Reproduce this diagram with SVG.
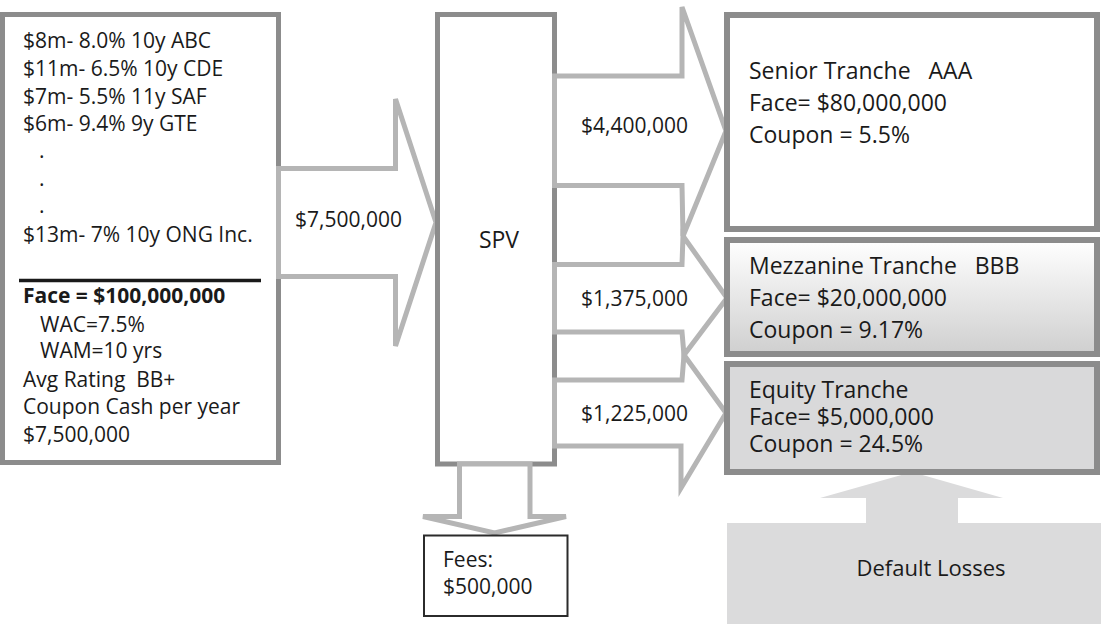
<svg xmlns="http://www.w3.org/2000/svg" width="1101" height="624" viewBox="0 0 1101 624">
  <style>
    .box { fill: #ffffff; stroke: #8c8c8c; stroke-width: 5; }
    .tr { stroke: #8c8c8c; stroke-width: 6; }
    .arrow { fill: #ffffff; stroke: #b5b5b5; stroke-width: 5; stroke-linejoin: miter; }
    text { font-family: "Open Sans", "Liberation Sans", sans-serif; fill: #1a1a1a; }
    .t21 { font-size: 21px; }
    .t23 { font-size: 23px; }
    .b { font-weight: bold; }
  </style>
  <defs>
    <linearGradient id="mezzGrad" x1="0" y1="0" x2="0" y2="1">
      <stop offset="0" stop-color="#ffffff"/>
      <stop offset="1" stop-color="#cfcfcf"/>
    </linearGradient>
  </defs>

  <g id="collateral">
    <rect class="box" x="2.5" y="14.5" width="276" height="448"/>
    <text class="t21" x="23" y="48">$8m- 8.0% 10y ABC</text>
    <text class="t21" x="23" y="76">$11m- 6.5% 10y CDE</text>
    <text class="t21" x="23" y="104">$7m- 5.5% 11y SAF</text>
    <text class="t21" x="23" y="131">$6m- 9.4% 9y GTE</text>
    <text class="t21" x="39" y="158">.</text>
    <text class="t21" x="39" y="186">.</text>
    <text class="t21" x="39" y="213">.</text>
    <text class="t21" x="23" y="242">$13m- 7% 10y ONG Inc.</text>
    <line x1="19" y1="280.5" x2="261" y2="280.5" stroke="#1a1a1a" stroke-width="3.5"/>
    <text class="t21 b" x="23" y="303">Face = $100,000,000</text>
    <text class="t21" x="40" y="332">WAC=7.5%</text>
    <text class="t21" x="40" y="358">WAM=10 yrs</text>
    <text class="t21" x="23" y="387">Avg Rating&#160; BB+</text>
    <text class="t21" x="23" y="414">Coupon Cash per year</text>
    <text class="t21" x="23" y="442">$7,500,000</text>
  </g>

  <g id="connectors">
    <g id="arrow-in">
      <polygon class="arrow" points="278.5,168.5 395.5,168.5 395.5,99 436,222.5 395.5,346 395.5,276.5 278.5,276.5"/>
      <text class="t21" x="295" y="227">$7,500,000</text>
    </g>
  </g>

  <g id="spv">
    <rect class="box" x="437.5" y="14.5" width="117" height="449.5"/>
    <text class="t23" x="499" y="248" text-anchor="middle">SPV</text>
  </g>

  <g id="connectors-out">
    <g id="arrow-senior">
      <polygon class="arrow" points="554.5,76 682,76 682,7 726,131 683,236 682,185.5 554.5,185.5"/>
      <text class="t21" x="581" y="133">$4,400,000</text>
    </g>
    <g id="arrow-mezz">
      <polygon class="arrow" points="554.5,264.5 682,264.5 683,236 727,298 684,355 682,332 554.5,332"/>
      <text class="t21" x="581" y="306">$1,375,000</text>
    </g>
    <g id="arrow-equity">
      <polygon class="arrow" points="554.5,380 682,380 684,355 726,413 681,488 681,446 554.5,446"/>
      <text class="t21" x="581" y="421">$1,225,000</text>
    </g>
    <g id="arrow-fees">
      <polygon class="arrow" points="459.5,464 459.5,516.5 423,516.5 494.5,533 566,516.5 530,516.5 530,464"/>
    </g>
    <g id="arrow-losses">
      <polygon fill="#dbdbdc" points="820,498 912,472 1003,498 958,498 958,523 1101,523 1101,624 727,624 727,523 866,523 866,498"/>
    </g>
  </g>

  <g id="fees">
    <rect x="424" y="535.5" width="143.5" height="80.5" fill="#ffffff" stroke="#2b2b2b" stroke-width="2"/>
    <text class="t21" x="443" y="567">Fees:</text>
    <text class="t21" x="443" y="594">$500,000</text>
  </g>

  <g id="senior">
    <rect class="tr" x="727" y="15" width="370" height="214" fill="#ffffff"/>
    <text class="t23" x="749" y="79">Senior Tranche&#160;&#160; AAA</text>
    <text class="t23" x="749" y="111">Face= $80,000,000</text>
    <text class="t23" x="749" y="143">Coupon = 5.5%</text>
  </g>

  <g id="mezzanine">
    <rect class="tr" x="727" y="240" width="370" height="114" fill="url(#mezzGrad)"/>
    <text class="t23" x="749" y="274">Mezzanine Tranche&#160;&#160; BBB</text>
    <text class="t23" x="749" y="306">Face= $20,000,000</text>
    <text class="t23" x="749" y="338">Coupon = 9.17%</text>
  </g>

  <g id="equity">
    <rect class="tr" x="727" y="364" width="370" height="108" fill="#d9d9da"/>
    <text class="t23" x="749" y="398">Equity Tranche</text>
    <text class="t23" x="749" y="425">Face= $5,000,000</text>
    <text class="t23" x="749" y="452">Coupon = 24.5%</text>
  </g>

  <g id="default-losses">
    <text style="font-size:22px" x="931" y="576" text-anchor="middle">Default Losses</text>
  </g>
</svg>
